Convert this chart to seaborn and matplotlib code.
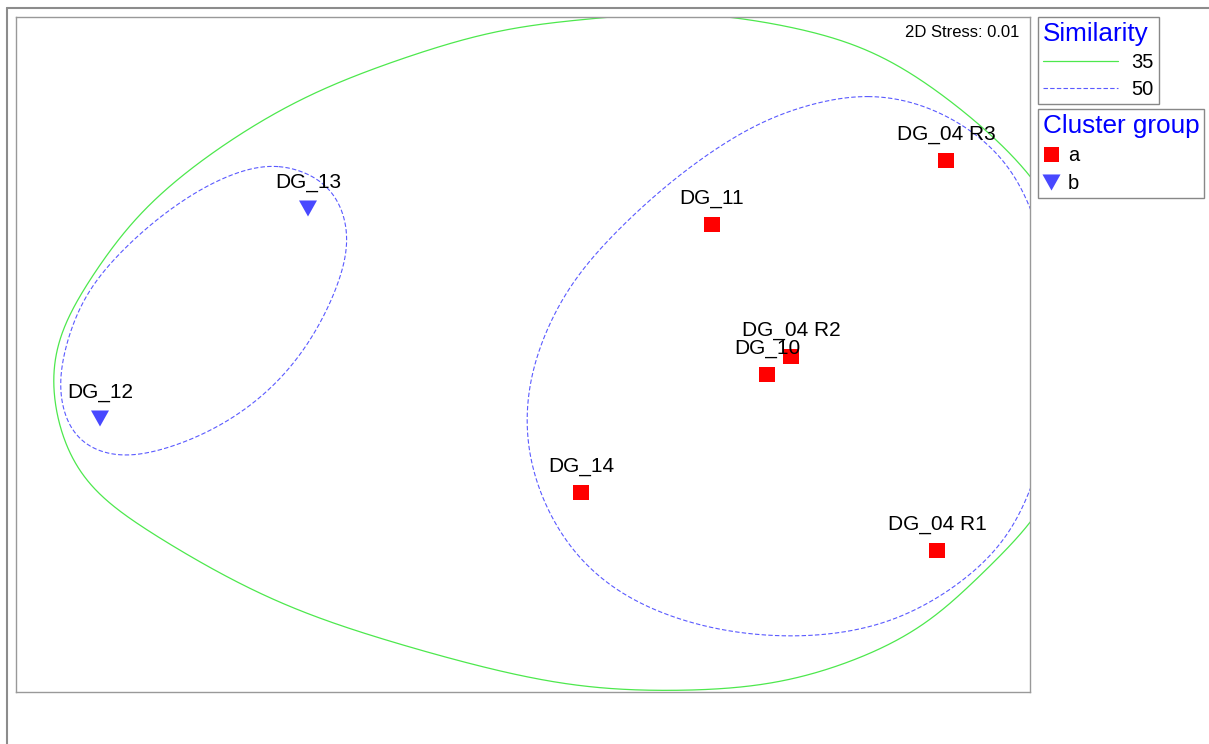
import numpy as np
import pandas as pd
import seaborn as sns
import matplotlib.pyplot as plt
from matplotlib.lines import Line2D
from matplotlib.markers import MarkerStyle

# --- NMDS ordination scores ---------------------------------------------
samples = ["DG_04 R1", "DG_04 R2", "DG_04 R3", "DG_10", "DG_11", "DG_12", "DG_13", "DG_14"]
mds1 = [2.07, 1.34, 2.115, 1.22, 0.945, -2.115, -1.075, 0.29]
mds2 = [-0.98, -0.01, 0.97, -0.10, 0.65, -0.32, 0.73, -0.69]
cluster = ["a", "a", "a", "a", "a", "b", "b", "a"]
stress = 0.01

# --- similarity contours (outline vertices) ------------------------------
sim35_x = [0.735, 1.07, 1.72, 2.05, 2.195, 2.335, 2.445, 2.535, 2.66, 2.745, 2.795, 2.81,
           2.785, 2.725, 2.635, 2.535, 2.315, 2.16, 1.99, 1.345, 0.70, 0.215, -0.605, -1.255,
           -1.915, -2.225, -2.32, -2.375, -2.335, -2.20, -1.91, -1.195, -0.525, -0.08, 0.39]
sim35_y = [1.7125, 1.6875, 1.5375, 1.3375, 1.2275, 1.1075, 1.0125, 0.9075, 0.7475, 0.5475,
           0.2725, 0.0225, -0.2775, -0.5275, -0.7275, -0.8675, -1.0725, -1.2325, -1.3775,
           -1.6325, -1.6825, -1.6525, -1.4525, -1.2275, -0.8575, -0.6275, -0.3925, -0.0925,
           0.1075, 0.3225, 0.7225, 1.2375, 1.5075, 1.6325, 1.6825]

sim50a_x = [1.725, 1.995, 2.25, 2.42, 2.535, 2.625, 2.675, 2.635, 2.535, 2.42, 2.165, 1.83,
            1.405, 0.90, 0.475, 0.225, 0.055, 0.01, 0.02, 0.055, 0.225, 0.56, 0.90, 1.235, 1.575]
sim50a_y = [1.3075, 1.2575, 1.1225, 0.9725, 0.7575, 0.4475, 0.0475, -0.3525, -0.6925, -0.9275,
            -1.1625, -1.3425, -1.4125, -1.3625, -1.1925, -0.9625, -0.6275, -0.3925, -0.1775,
            -0.0275, 0.3375, 0.7075, 0.9875, 1.1875, 1.2875]

sim50b_x = [-1.22, -1.00, -0.925, -0.87, -0.935, -1.12, -1.37, -1.70, -2.035, -2.235, -2.30,
            -2.32, -2.20, -1.95, -1.62, -1.37]
sim50b_y = [0.9525, 0.8725, 0.7875, 0.5875, 0.3225, -0.0125, -0.2625, -0.4425, -0.5125,
            -0.4275, -0.2925, -0.1275, 0.2725, 0.5725, 0.8225, 0.9325]

xlim = (-2.535, 2.535)
ylim = (-1.6875, 1.6875)

# --- styling -------------------------------------------------------------
sns.set_style("white")
plt.rcParams["font.family"] = ["Liberation Sans", "DejaVu Sans"]
plt.rcParams["text.color"] = "black"

RED = "#ff0000"
TRI_BLUE = "#4848ff"
GREEN = "#4de84d"
DASH_BLUE = "#5a5aff"
FRAME = "#8c8c8c"
TITLE_BLUE = "#0000ff"

tri_down = MarkerStyle(np.array([[-1.0, 0.89], [1.0, 0.89], [0.0, -0.89], [-1.0, 0.89]]))
markers = {"a": "s", "b": tri_down}
palette = {"a": RED, "b": TRI_BLUE}
sizes = {"a": 117, "b": 168}


def catmull_rom_ring(P, n=30):
    """Centripetal Catmull-Rom spline through a closed ring of vertices."""
    m = len(P)
    segs = []
    for i in range(m):
        p0, p1, p2, p3 = P[(i - 1) % m], P[i], P[(i + 1) % m], P[(i + 2) % m]
        t0 = 0.0
        t1 = t0 + np.linalg.norm(p1 - p0) ** 0.5
        t2 = t1 + np.linalg.norm(p2 - p1) ** 0.5
        t3 = t2 + np.linalg.norm(p3 - p2) ** 0.5
        t = np.linspace(t1, t2, n, endpoint=False)[:, None]
        A1 = (t1 - t) / (t1 - t0) * p0 + (t - t0) / (t1 - t0) * p1
        A2 = (t2 - t) / (t2 - t1) * p1 + (t - t1) / (t2 - t1) * p2
        A3 = (t3 - t) / (t3 - t2) * p2 + (t - t2) / (t3 - t2) * p3
        B1 = (t2 - t) / (t2 - t0) * A1 + (t - t0) / (t2 - t0) * A2
        B2 = (t3 - t) / (t3 - t1) * A2 + (t - t1) / (t3 - t1) * A3
        segs.append((t2 - t) / (t2 - t1) * B1 + (t - t1) / (t2 - t1) * B2)
    return np.vstack(segs)


def smooth_ring(xs, ys, sigma, n=2400):
    """Spline the outline, resample it by arc length and Gaussian-smooth around the ring."""
    C = catmull_rom_ring(np.column_stack([xs, ys]).astype(float))
    Q = np.vstack([C, C[:1]])
    d = np.r_[0.0, np.cumsum(np.hypot(*np.diff(Q, axis=0).T))]
    s = np.linspace(0, d[-1], n, endpoint=False)
    x = np.interp(s, d, Q[:, 0])
    y = np.interp(s, d, Q[:, 1])
    ds = d[-1] / n
    half = int(3.5 * sigma / ds)
    offs = np.arange(-half, half + 1)
    w = np.exp(-0.5 * (offs * ds / sigma) ** 2)
    w /= w.sum()
    xs_s = sum(wi * np.roll(x, -o) for wi, o in zip(w, offs))
    ys_s = sum(wi * np.roll(y, -o) for wi, o in zip(w, offs))
    return np.r_[xs_s, xs_s[:1]], np.r_[ys_s, ys_s[:1]]


W, H = 1209, 744
fig = plt.figure(figsize=(W / 100, H / 100), dpi=100)
ax = fig.add_axes([16 / W, (H - 692) / H, 1014 / W, 675 / H])

# similarity contours
cx, cy = smooth_ring(sim35_x, sim35_y, sigma=0.2)
sns.lineplot(x=cx, y=cy, sort=False, estimator=None, color=GREEN, lw=0.9, ax=ax)
for sx, sy, sg in [(sim50a_x, sim50a_y, 0.16), (sim50b_x, sim50b_y, 0.1)]:
    cx, cy = smooth_ring(sx, sy, sigma=sg)
    sns.lineplot(x=cx, y=cy, sort=False, estimator=None, color=DASH_BLUE, lw=0.8,
                 linestyle=(0, (4, 2)), ax=ax)

# sample points
df = pd.DataFrame({"sample": samples, "MDS1": mds1, "MDS2": mds2, "group": cluster})
sns.scatterplot(data=df, x="MDS1", y="MDS2", hue="group", style="group", size="group",
                palette=palette, markers=markers, sizes=sizes, linewidth=0,
                legend=False, ax=ax, zorder=3)

for name, x, y in zip(samples, mds1, mds2):
    ax.annotate(name, (x, y), xytext=(0, 14.8), textcoords="offset points",
                ha="center", va="baseline", fontsize=15, color="black", zorder=4)

ax.text(0.990, 0.9704, f"2D Stress: {stress:.2f}", transform=ax.transAxes,
        ha="right", va="baseline", fontsize=12, color="black")

ax.set_xlim(*xlim)
ax.set_ylim(*ylim)
ax.set_xlabel("")
ax.set_ylabel("")
ax.set_xticks([])
ax.set_yticks([])
for sp in ax.spines.values():
    sp.set_color("#999999")
    sp.set_linewidth(1.0)

# outer picture frame (left and top edges)
fig.add_artist(Line2D([7 / W, 7 / W], [0, (H - 8) / H], color=FRAME, lw=1.5,
                      transform=fig.transFigure))
fig.add_artist(Line2D([7 / W, 1], [(H - 8) / H, (H - 8) / H], color=FRAME, lw=1.5,
                      transform=fig.transFigure))

# legends
common = dict(loc="upper left", bbox_transform=fig.transFigure, borderaxespad=0,
              fontsize=14.5, title_fontsize=18.8, borderpad=0.24, fancybox=False,
              framealpha=1, edgecolor="#888888", alignment="left", labelcolor="black")

sim_handles = [Line2D([], [], color=GREEN, lw=0.9),
               Line2D([], [], color=DASH_BLUE, lw=0.8, linestyle=(0, (4, 2)))]
leg1 = fig.legend(sim_handles, ["35", "50"], title="Similarity",
                  bbox_to_anchor=(1038 / W, 1 - 17 / H), handlelength=3.75,
                  handletextpad=0.65, labelspacing=0.38, **common)
leg1.get_title().set_color(TITLE_BLUE)
leg1.get_frame().set_linewidth(1.0)

grp_handles = [Line2D([], [], marker="s", color=RED, ls="none", markersize=10.8, mew=0),
               Line2D([], [], marker=tri_down, color=TRI_BLUE, ls="none", markersize=13, mew=0)]
leg2 = fig.legend(grp_handles, ["a", "b"], title="Cluster group",
                  bbox_to_anchor=(1038 / W, 1 - 109 / H), handlelength=0.8,
                  handletextpad=0.45, labelspacing=0.42, **common)
leg2.get_title().set_color(TITLE_BLUE)
leg2.get_frame().set_linewidth(1.0)

fig.savefig("out.png", dpi=100)
